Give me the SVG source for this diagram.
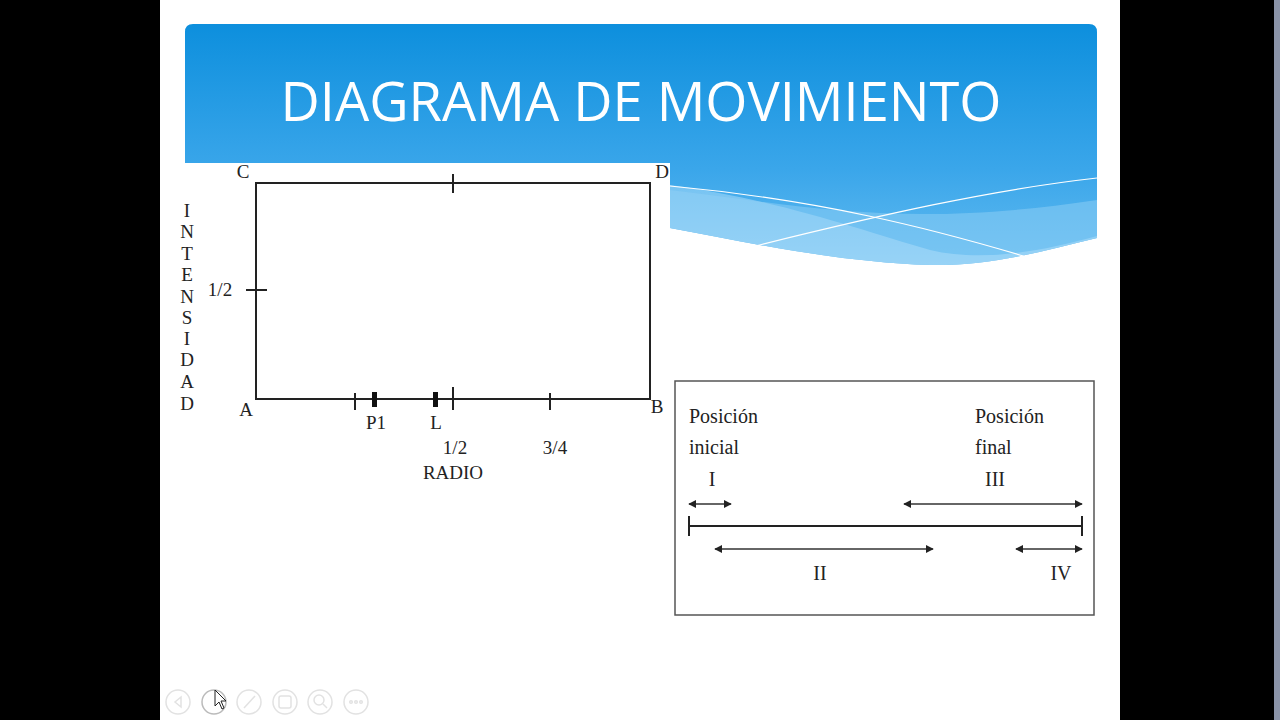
<svg xmlns="http://www.w3.org/2000/svg" width="1280" height="720" viewBox="0 0 1280 720">
<defs>
<linearGradient id="bg" x1="0" y1="0" x2="0" y2="1">
<stop offset="0" stop-color="#0d8fdd"/>
<stop offset="0.6" stop-color="#3aa6ea"/>
<stop offset="1" stop-color="#62bbf0"/>
</linearGradient>
<linearGradient id="wv" x1="0" y1="0" x2="0" y2="1">
<stop offset="0" stop-color="#7cc6f3"/>
<stop offset="1" stop-color="#a6d9f8"/>
</linearGradient>
<marker id="ah" viewBox="0 0 10 10" refX="9" refY="5" markerWidth="8" markerHeight="9" orient="auto-start-reverse" markerUnits="userSpaceOnUse">
<path d="M0,0 L10,5 L0,10 z" fill="#222"/>
</marker>
<style>
.ser{font-family:"Liberation Serif","DejaVu Serif",serif;fill:#222}
.lbl{font-size:19px}
.box{font-size:20px}
.ln{stroke:#222;stroke-width:2;fill:none}
.ln2{stroke:#333;stroke-width:1.5;fill:none}
.ctl{fill:none;stroke:#e2e2e2;stroke-width:1.5}
</style>
</defs>
<rect width="1280" height="720" fill="#000"/>
<rect x="160" y="0" width="960" height="720" fill="#fff"/>
<rect x="1274" y="0" width="6" height="720" fill="#8a93a8"/>

<g id="banner">
<path d="M193,24 H1089 Q1097,24 1097,32 V238 C1040,252 990,266 930,265 C840,262 760,245 670,228 V163 H185 V32 Q185,24 193,24 Z" fill="url(#bg)"/>
<path d="M670,185 C780,200 860,230 930,250 C980,262 1040,252 1097,236 V238 C1040,252 990,266 930,265 C840,262 760,245 670,228 Z" fill="url(#wv)" opacity="0.9"/>
<path d="M670,190 C800,205 900,230 1097,200 V238 C1040,252 990,266 930,265 C840,262 760,245 670,228 Z" fill="#8fd0f6" opacity="0.5"/>
<path d="M670,186 C820,200 930,228 1030,258" fill="none" stroke="#fff" stroke-width="1.2"/>
<path d="M755,246 C880,215 990,190 1097,178" fill="none" stroke="#fff" stroke-width="1.2"/>
<text x="641" y="121" text-anchor="middle" font-family="'Open Sans','Noto Sans',sans-serif" font-size="54" fill="#fff" textLength="721" lengthAdjust="spacingAndGlyphs">DIAGRAMA DE MOVIMIENTO</text>
</g>

<g id="grafico">
<rect x="256" y="183" width="394" height="216" class="ln"/>
<line x1="453" y1="174" x2="453" y2="193" class="ln"/>
<line x1="246" y1="290" x2="267" y2="290" class="ln"/>
<line x1="355" y1="393" x2="355" y2="410" class="ln"/>
<rect x="372" y="392" width="5" height="15" fill="#111"/>
<rect x="433" y="392" width="5" height="15" fill="#111"/>
<line x1="453" y1="387" x2="453" y2="410" class="ln"/>
<line x1="550" y1="393" x2="550" y2="410" class="ln"/>
<text class="ser lbl" x="243" y="178" text-anchor="middle">C</text>
<text class="ser lbl" x="662" y="178" text-anchor="middle">D</text>
<text class="ser lbl" x="246" y="416" text-anchor="middle">A</text>
<text class="ser lbl" x="657" y="413" text-anchor="middle">B</text>
<text class="ser lbl" x="220" y="296" text-anchor="middle">1/2</text>
<text class="ser lbl" x="376" y="429" text-anchor="middle">P1</text>
<text class="ser lbl" x="436" y="429" text-anchor="middle">L</text>
<text class="ser lbl" x="455" y="454" text-anchor="middle">1/2</text>
<text class="ser lbl" x="555" y="454" text-anchor="middle">3/4</text>
<text class="ser lbl" x="453" y="479" text-anchor="middle">RADIO</text>
<g class="ser lbl" text-anchor="middle">
<text x="187" y="217">I</text>
<text x="187" y="238">N</text>
<text x="187" y="260">T</text>
<text x="187" y="281">E</text>
<text x="187" y="303">N</text>
<text x="187" y="324">S</text>
<text x="187" y="345">I</text>
<text x="187" y="366">D</text>
<text x="187" y="388">A</text>
<text x="187" y="410">D</text>
</g>
</g>

<g id="posiciones">
<rect x="675" y="381" width="419" height="234" fill="#fff" stroke="#555" stroke-width="1.5"/>
<text class="ser box" x="689" y="423">Posición</text>
<text class="ser box" x="689" y="454">inicial</text>
<text class="ser box" x="712" y="486" text-anchor="middle">I</text>
<text class="ser box" x="975" y="423">Posición</text>
<text class="ser box" x="975" y="454">final</text>
<text class="ser box" x="995" y="486" text-anchor="middle">III</text>
<text class="ser box" x="820" y="580" text-anchor="middle">II</text>
<text class="ser box" x="1061" y="580" text-anchor="middle">IV</text>
<line x1="689" y1="526" x2="1082" y2="526" class="ln"/>
<line x1="689" y1="516" x2="689" y2="536" class="ln"/>
<line x1="1082" y1="516" x2="1082" y2="536" class="ln"/>
</g>

<g id="connectors">
<line x1="689" y1="504" x2="731" y2="504" class="ln2" marker-start="url(#ah)" marker-end="url(#ah)"/>
<line x1="904" y1="504" x2="1082" y2="504" class="ln2" marker-start="url(#ah)" marker-end="url(#ah)"/>
<line x1="715" y1="549" x2="933" y2="549" class="ln2" marker-start="url(#ah)" marker-end="url(#ah)"/>
<line x1="1016" y1="549" x2="1082" y2="549" class="ln2" marker-start="url(#ah)" marker-end="url(#ah)"/>
</g>

<g id="controles">
<circle cx="178" cy="702" r="12" class="ctl"/>
<path d="M181,697 L175,702 L181,707 Z" class="ctl"/>
<circle cx="214" cy="702" r="12" fill="none" stroke="#bbb" stroke-width="1.5"/>
<circle cx="249" cy="702" r="12" class="ctl"/>
<line x1="244" y1="708" x2="255" y2="696" class="ctl"/>
<circle cx="285" cy="702" r="12" class="ctl"/>
<rect x="279" y="696" width="12" height="12" rx="2" class="ctl"/>
<circle cx="320" cy="702" r="12" class="ctl"/>
<circle cx="319" cy="700" r="5" class="ctl"/>
<line x1="323" y1="704" x2="327" y2="708" class="ctl"/>
<circle cx="356" cy="702" r="12" class="ctl"/>
<circle cx="351" cy="702" r="1.3" class="ctl"/>
<circle cx="356" cy="702" r="1.3" class="ctl"/>
<circle cx="361" cy="702" r="1.3" class="ctl"/>
<path d="M215,690 L215,706 L219,702 L222,709 L224,708 L221,701 L226,701 Z" fill="#fff" stroke="#222" stroke-width="1"/>
</g>
</svg>
